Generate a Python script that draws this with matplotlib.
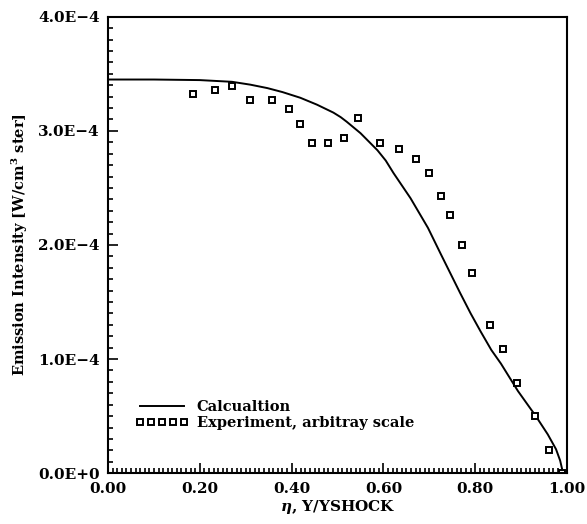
import matplotlib.pyplot as plt
from matplotlib.ticker import MultipleLocator, FixedLocator, FixedFormatter

# calculated emission profile
calc_eta = [0.0, 0.1, 0.2, 0.27, 0.31, 0.347, 0.38, 0.419, 0.455, 0.491, 0.507,
            0.520, 0.550, 0.587, 0.605, 0.622, 0.659, 0.697, 0.725, 0.767, 0.79,
            0.812, 0.835, 0.856, 0.893, 0.932, 0.958, 0.976, 0.985, 0.989, 0.990]
calc_I = [3.45, 3.45, 3.445, 3.43, 3.405, 3.375, 3.34, 3.29, 3.23, 3.16, 3.12,
          3.08, 2.98, 2.83, 2.74, 2.63, 2.41, 2.15, 1.92, 1.58, 1.40,
          1.24, 1.08, 0.96, 0.72, 0.50, 0.34, 0.21, 0.11, 0.04, 0.0]

# measured points (arbitrary scale)
exp_eta = [0.186, 0.234, 0.271, 0.310, 0.358, 0.395, 0.419, 0.445, 0.480, 0.515,
           0.544, 0.592, 0.635, 0.670, 0.699, 0.725, 0.745, 0.771, 0.793, 0.832,
           0.860, 0.891, 0.930, 0.961, 0.989]
exp_I = [3.32, 3.36, 3.39, 3.27, 3.27, 3.19, 3.06, 2.89, 2.89, 2.94,
         3.11, 2.89, 2.84, 2.75, 2.63, 2.43, 2.26, 2.00, 1.75, 1.30,
         1.09, 0.79, 0.50, 0.20, 0.0]

scale = 1e-4
yticks = [0.0, 1e-4, 2e-4, 3e-4, 4e-4]
ytick_labels = ['0.0E+0', '1.0E\u22124', '2.0E\u22124', '3.0E\u22124', '4.0E\u22124']
xticks = [0.0, 0.2, 0.4, 0.6, 0.8, 1.0]
xtick_labels = ['0.00', '0.20', '0.40', '0.60', '0.80', '1.00']

plt.rcParams['font.family'] = 'DejaVu Serif'
plt.rcParams['font.weight'] = 'bold'
plt.rcParams['mathtext.fontset'] = 'dejavuserif'

fig = plt.figure(figsize=(5.87, 5.24), dpi=100)
ax = fig.add_axes([0.184, 0.097, 0.782, 0.871])

ax.plot(calc_eta, [v * scale for v in calc_I], color='black', lw=1.4,
        label='Calcualtion')
ax.plot(exp_eta, [v * scale for v in exp_I], ls='none', marker='s',
        ms=4.6, mfc='white', mec='black', mew=1.4,
        label='Experiment, arbitray scale')

ax.set_xlim(0, 1.0)
ax.set_ylim(0, 4e-4)
ax.xaxis.set_major_locator(FixedLocator(xticks))
ax.xaxis.set_major_formatter(FixedFormatter(xtick_labels))
ax.xaxis.set_minor_locator(MultipleLocator(0.01))
ax.yaxis.set_major_locator(FixedLocator(yticks))
ax.yaxis.set_major_formatter(FixedFormatter(ytick_labels))
ax.yaxis.set_minor_locator(MultipleLocator(1e-5))

ax.tick_params(which='both', direction='in', top=False, right=False,
               labelsize=11, width=1.2)
ax.tick_params(which='major', length=7, pad=6)
ax.tick_params(which='minor', length=3.5)
for s in ax.spines.values():
    s.set_linewidth(1.5)

ax.set_xlabel(r'$\eta$, Y/YSHOCK', fontsize=11, fontweight='bold', labelpad=2)
ax.set_ylabel(r'Emission Intensity [W/cm$^\mathbf{3}$ ster]', fontsize=10.5,
              fontweight='bold', labelpad=6)

ax.legend(loc='lower left', bbox_to_anchor=(0.06, 0.095), frameon=False,
          numpoints=5, handlelength=3.6, handletextpad=0.6, borderaxespad=0,
          borderpad=0, labelspacing=0.1, fontsize=10.5)

fig.savefig('out.png', dpi=100)
